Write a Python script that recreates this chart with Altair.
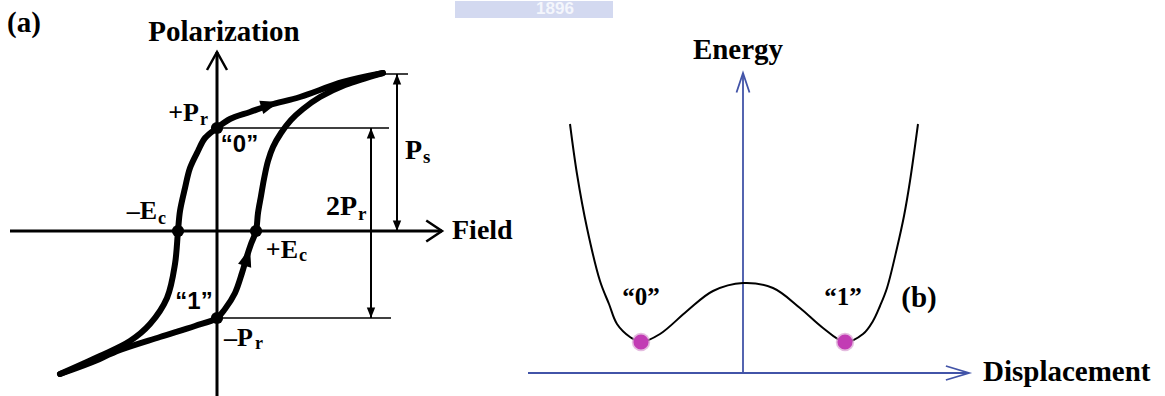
import altair as alt
import pandas as pd

# ---------------- (a) P–E hysteresis loop (arbitrary units) ----------------
# branch running from the saturated tip back to negative saturation
upper_E = [1.66, 1.26, 0.83, 0.53, 0.33, 0.13, 0.00, -0.12, -0.19, -0.27, -0.32,
           -0.37, -0.39, -0.42, -0.50, -0.67, -0.87, -1.17, -1.57]
upper_P = [1.58, 1.49, 1.34, 1.26, 1.19, 1.12, 1.03, 0.93, 0.80, 0.63, 0.43,
           0.20, 0.00, -0.33, -0.67, -0.93, -1.10, -1.25, -1.43]
# branch running from negative saturation up to the saturated tip
lower_E = [-1.57, -1.27, -0.97, -0.57, -0.22, 0.00, 0.08, 0.18, 0.25, 0.30, 0.34,
           0.39, 0.41, 0.44, 0.47, 0.51, 0.56, 0.64, 0.74, 0.86, 1.03, 1.28, 1.66]
lower_P = [-1.43, -1.32, -1.19, -1.06, -0.95, -0.87, -0.78, -0.62, -0.42, -0.25, -0.13,
           0.00, 0.18, 0.35, 0.52, 0.70, 0.84, 0.98, 1.11, 1.22, 1.34, 1.46, 1.58]

Pr_plus, Pr_minus = 1.03, -0.87
Ec_minus, Ec_plus = -0.39, 0.39
Ps = 1.57

# ---------------- (b) double-well energy landscape ----------------
disp = [-1.73, -1.66, -1.56, -1.43, -1.34, -1.26, -1.13, -1.02, -0.83, -0.56, -0.30,
        0.00, 0.30, 0.57, 0.80, 1.02, 1.20, 1.30, 1.37, 1.44, 1.54, 1.61, 1.67, 1.75]
energy = [2.49, 1.99, 1.45, 0.92, 0.69, 0.49, 0.36, 0.31, 0.39, 0.62, 0.82,
          0.90, 0.85, 0.65, 0.45, 0.31, 0.39, 0.52, 0.67, 0.85, 1.25, 1.57, 1.92, 2.49]
well_D = [-1.02, 1.02]
well_U = [0.31, 0.31]

SERIF = "Liberation Serif"
SANS = "Liberation Sans"
BLUE = "#4254A8"

# ---------------- panel (a) ----------------
xa = alt.Scale(domain=[-2.17, 3.03], nice=False, zero=False)
ya = alt.Scale(domain=[-1.66, 2.30], nice=False, zero=False)
XA = alt.X("x:Q", scale=xa, axis=None)
YA = alt.Y("y:Q", scale=ya, axis=None)


def rules(df, scale_x, scale_y, **kw):
    return alt.Chart(df).mark_rule(**kw).encode(
        x=alt.X("x:Q", scale=scale_x, axis=None), y=alt.Y("y:Q", scale=scale_y, axis=None),
        x2="x2:Q", y2="y2:Q")


def points(df, X, Y, **kw):
    kw.setdefault("opacity", 1)
    return alt.Chart(df).mark_point(**kw).encode(x=X, y=Y)


def texts(df, X, Y, **kw):
    kw.setdefault("color", "black")
    return alt.Chart(df).mark_text(**kw).encode(x=X, y=Y, text="t:N")


axes_a = pd.DataFrame({"x": [0, -2.07], "y": [-1.65, 0], "x2": [0, 2.25], "y2": [1.79, 0]})
guides_a = pd.DataFrame({"x": [0, 0, 1.68], "y": [Pr_plus, Pr_minus, Ps],
                         "x2": [1.72, 1.74, 1.91], "y2": [Pr_plus, Pr_minus, Ps]})
shafts_a = pd.DataFrame({"x": [1.54, 1.80], "y": [Pr_minus, 0], "x2": [1.54, 1.80], "y2": [Pr_plus, Ps]})
heads_up = pd.DataFrame({"x": [1.54, 1.80], "y": [Pr_plus, Ps]})
heads_dn = pd.DataFrame({"x": [1.54, 1.80], "y": [Pr_minus, 0]})

loop = pd.DataFrame({
    "x": upper_E + lower_E,
    "y": upper_P + lower_P,
    "branch": ["down"] * len(upper_E) + ["up"] * len(lower_E),
    "i": list(range(len(upper_E))) + list(range(len(lower_E))),
})
states = pd.DataFrame({"x": [0, Ec_minus, Ec_plus, 0], "y": [Pr_plus, 0, 0, Pr_minus]})

loop_line = alt.Chart(loop).mark_line(
    color="black", strokeWidth=6, strokeCap="round", strokeJoin="round",
    interpolate="catmull-rom").encode(x=XA, y=YA, detail="branch:N", order="i:Q")

TRI = "M0,-1.3L0.85,1L-0.85,1Z"
ARROW_UP = "M0,0L0.8,2L-0.8,2Z"
ARROW_DN = "M0,0L0.8,-2L-0.8,-2Z"

panel_a = alt.layer(
    rules(axes_a, xa, ya, color="black", strokeWidth=3),
    rules(guides_a, xa, ya, color="black", strokeWidth=1.5),
    rules(shafts_a, xa, ya, color="black", strokeWidth=2),
    points(heads_up, XA, YA, shape=ARROW_UP, size=110, filled=True, color="black"),
    points(heads_dn, XA, YA, shape=ARROW_DN, size=110, filled=True, color="black"),
    points(pd.DataFrame({"x": [0], "y": [1.79]}), XA, YA,
           shape="M-1,1.8L0,0L1,1.8", size=400, filled=False, color="black", strokeWidth=2.5),
    points(pd.DataFrame({"x": [2.25], "y": [0]}), XA, YA,
           shape="M-1.5,-1L0,0L-1.5,1", size=441, filled=False, color="black", strokeWidth=2.5),
    loop_line,
    points(pd.DataFrame({"x": [0.52], "y": [1.26]}), XA, YA,
           shape=TRI, size=260, filled=True, color="black", angle=73),
    points(pd.DataFrame({"x": [0.30], "y": [-0.27]}), XA, YA,
           shape=TRI, size=260, filled=True, color="black", angle=17),
    points(states, XA, YA, shape="circle", size=150, filled=True, color="black"),
    # faint emblem strip along the top edge
    alt.Chart(pd.DataFrame({"x": [2.38], "x2": [3.03], "y": [2.30], "y2": [2.13]}))
    .mark_rect(color="#D3D9F0").encode(x=XA, y=YA, x2="x2:Q", y2="y2:Q"),
    texts(pd.DataFrame({"t": ["Polarization"], "x": [0.07], "y": [1.90]}), XA, YA,
          font=SERIF, fontWeight="bold", fontSize=29, align="center", baseline="alphabetic"),
    texts(pd.DataFrame({"t": ["(a)"], "x": [-2.10], "y": [1.99]}), XA, YA,
          font=SERIF, fontWeight="bold", fontSize=29, align="left", baseline="alphabetic"),
    texts(pd.DataFrame({"t": ["Field"], "x": [2.35], "y": [-0.08]}), XA, YA,
          font=SERIF, fontWeight="bold", fontSize=28, align="left", baseline="alphabetic"),
    texts(pd.DataFrame({"t": ["+P", "–E", "+E", "–P"],
                        "x": [-0.18, -0.60, 0.81, 0.36],
                        "y": [1.10, 0.12, -0.27, -1.15]}), XA, YA,
          font=SERIF, fontWeight="bold", fontSize=26, align="right", baseline="alphabetic"),
    texts(pd.DataFrame({"t": ["2P", "P"], "x": [1.40, 2.05], "y": [0.16, 0.72]}), XA, YA,
          font=SERIF, fontWeight="bold", fontSize=28, align="right", baseline="alphabetic"),
    texts(pd.DataFrame({"t": ["r", "c", "c", "r"],
                        "x": [-0.17, -0.59, 0.82, 0.38],
                        "y": [1.06, 0.07, -0.30, -1.18]}), XA, YA,
          font=SERIF, fontWeight="bold", fontSize=18, align="left", baseline="alphabetic"),
    texts(pd.DataFrame({"t": ["r", "s"], "x": [1.41, 2.06], "y": [0.11, 0.68]}), XA, YA,
          font=SERIF, fontWeight="bold", fontSize=19, align="left", baseline="alphabetic"),
    texts(pd.DataFrame({"t": ["“0”", "“1”"], "x": [0.225, -0.23], "y": [0.86, -0.71]}), XA, YA,
          font=SANS, fontWeight="bold", fontSize=24, align="center", baseline="middle"),
).properties(width=520, height=396)

# ---------------- panel (b) ----------------
xb = alt.Scale(domain=[-2.23, 4.22], nice=False, zero=False)
yb = alt.Scale(domain=[-0.24, 3.72], nice=False, zero=False)
XB = alt.X("x:Q", scale=xb, axis=None)
YB = alt.Y("y:Q", scale=yb, axis=None)

axes_b = pd.DataFrame({"x": [0, -2.15], "y": [0, 0], "x2": [0, 2.26], "y2": [3.00, 0]})
curve = pd.DataFrame({"x": disp, "y": energy})
wells = pd.DataFrame({"x": well_D, "y": well_U})

panel_b = alt.layer(
    alt.Chart(pd.DataFrame({"x": [-2.23], "x2": [-1.30], "y": [3.72], "y2": [3.55]}))
    .mark_rect(color="#D3D9F0").encode(x=XB, y=YB, x2="x2:Q", y2="y2:Q"),
    texts(pd.DataFrame({"t": ["1896"], "x": [-1.88], "y": [3.64]}), XB, YB,
          font=SANS, fontWeight="bold", fontSize=17, align="center", baseline="middle",
          color="#F4F6FC"),
    rules(axes_b, xb, yb, color=BLUE, strokeWidth=1.8),
    points(pd.DataFrame({"x": [0], "y": [3.00]}), XB, YB,
           shape="M-1,3L0,0L1,3", size=169, filled=False, color=BLUE, strokeWidth=1.8),
    points(pd.DataFrame({"x": [2.26], "y": [0]}), XB, YB,
           shape="M-3.3,-1L0,0L-3.3,1", size=196, filled=False, color=BLUE, strokeWidth=1.8),
    alt.Chart(curve).mark_line(color="black", strokeWidth=2, interpolate="catmull-rom")
    .encode(x=XB, y=YB),
    points(wells, XB, YB, shape="circle", size=340, filled=True, color="#D9A0D2", opacity=0.7),
    points(wells, XB, YB, shape="circle", size=230, filled=True, color="#C23CB4"),
    texts(pd.DataFrame({"t": ["Energy"], "x": [-0.05], "y": [3.14]}), XB, YB,
          font=SERIF, fontWeight="bold", fontSize=29, align="center", baseline="alphabetic"),
    texts(pd.DataFrame({"t": ["Displacement"], "x": [2.40], "y": [-0.08]}), XB, YB,
          font=SERIF, fontWeight="bold", fontSize=29, align="left", baseline="alphabetic"),
    texts(pd.DataFrame({"t": ["(b)"], "x": [1.76], "y": [0.75]}), XB, YB,
          font=SERIF, fontWeight="bold", fontSize=29, align="center", baseline="middle"),
    texts(pd.DataFrame({"t": ["“0”", "“1”"], "x": [-1.02, 1.00], "y": [0.76, 0.76]}), XB, YB,
          font=SERIF, fontWeight="bold", fontSize=25, align="center", baseline="middle"),
).properties(width=645, height=396)

chart = (
    alt.hconcat(panel_a, panel_b, spacing=0)
    .properties(padding=0, background="white")
    .configure_view(stroke=None)
)

chart.save("out.html", embed_options={"renderer": "svg", "actions": False})
